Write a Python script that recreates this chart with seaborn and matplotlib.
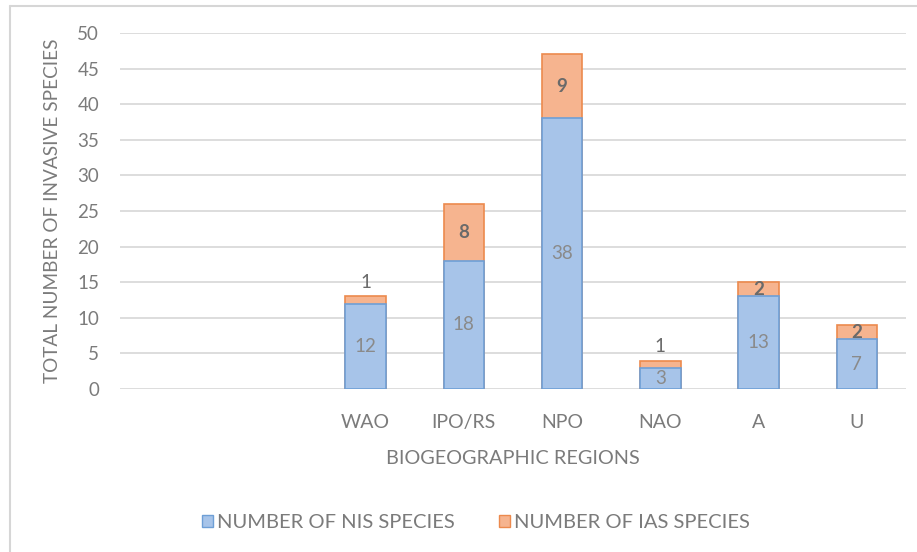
import matplotlib
matplotlib.use("Agg")
import matplotlib.pyplot as plt
from matplotlib.lines import Line2D
from matplotlib.patches import Patch
import pandas as pd
import seaborn as sns

# Category slots on the x axis (the first two are left empty)
regions = ["", " ", "WAO", "IPO/RS", "NPO", "NAO", "A", "U"]
plotted_regions = ["WAO", "IPO/RS", "NPO", "NAO", "A", "U"]
nis_species = [12, 18, 38, 3, 13, 7]
ias_species = [1, 8, 9, 1, 2, 2]
y_ticks = [0, 5, 10, 15, 20, 25, 30, 35, 40, 45, 50]

df = pd.DataFrame({
    "region": plotted_regions,
    "nis": nis_species,
    "ias": ias_species,
})
df["total"] = df["nis"] + df["ias"]

BLUE = "#a7c4e9"
BLUE_EDGE = "#6e9fd6"
ORANGE = "#f6b48f"
ORANGE_EDGE = "#ec8a4e"
TEXT = "#7b7b7b"
GRID = "#dadada"

sns.set_theme(style="white")
plt.rcParams["font.family"] = ["Lato", "DejaVu Sans"]

W, H = 917, 552
fig = plt.figure(figsize=(W / 100, H / 100), dpi=100)
ax = fig.add_axes([120 / W, 1 - 389 / H, 786 / W, 356 / H])

# Stacked bars: full total in orange, NIS part drawn over it in blue
sns.barplot(data=df, x="region", y="total", order=regions, color=ORANGE,
            edgecolor=ORANGE_EDGE, linewidth=1.2, width=0.41, saturation=1,
            errorbar=None, ax=ax)
sns.barplot(data=df, x="region", y="nis", order=regions, color=BLUE,
            edgecolor=BLUE_EDGE, linewidth=1.2, width=0.41, saturation=1,
            errorbar=None, ax=ax)

ax.set_ylim(0, 50)
ax.set_xlim(-0.5, len(regions) - 0.5)
ax.set_yticks(y_ticks)
ax.grid(axis="y", color=GRID, linewidth=1.3)
ax.set_axisbelow(True)
for s in ax.spines.values():
    s.set_visible(False)
ax.tick_params(axis="y", length=0, pad=15, labelsize=13.5, labelcolor=TEXT)
ax.tick_params(axis="x", length=0, pad=18, labelsize=14, labelcolor=TEXT)

ax.set_xlabel("BIOGEOGRAPHIC REGIONS", fontsize=14.3, color=TEXT, labelpad=14)
ax.set_ylabel("TOTAL NUMBER OF INVASIVE SPECIES", fontsize=13.7, color=TEXT,
              labelpad=12)

# Segment value labels
for r, n, a in zip(plotted_regions, nis_species, ias_species):
    xi = regions.index(r)
    ax.text(xi, n / 2, str(n), ha="center", va="center", fontsize=13.5,
            color="#8a8a8a")
    if a == 1:
        ax.annotate(str(a), (xi, n + a), xytext=(0, 10),
                    textcoords="offset points", ha="center", va="center",
                    fontsize=13.5, color="#6a6a6a")
    else:
        ax.text(xi, n + a / 2, str(a), ha="center", va="center",
                fontsize=13.5, color="#6a6a6a", fontweight="bold")

handles = [
    Patch(facecolor=BLUE, edgecolor=BLUE_EDGE, label="NUMBER OF NIS SPECIES"),
    Patch(facecolor=ORANGE, edgecolor=ORANGE_EDGE, label="NUMBER OF IAS SPECIES"),
]
fig.legend(handles=handles, loc="center", bbox_to_anchor=(476 / W, 1 - 523 / H),
           ncol=2, frameon=False, fontsize=14.5, labelcolor=TEXT,
           handlelength=0.55, handleheight=0.55, handletextpad=0.2,
           columnspacing=2.2)

# Light chart-area border (top and left edges)
fig.add_artist(Line2D([10 / W, 10 / W], [0, 1 - 6 / H], color="#d6d6d6",
                      linewidth=1.5, transform=fig.transFigure))
fig.add_artist(Line2D([10 / W, 1], [1 - 6 / H, 1 - 6 / H], color="#d6d6d6",
                      linewidth=1.5, transform=fig.transFigure))

fig.savefig("out.png", dpi=100, facecolor="white")
